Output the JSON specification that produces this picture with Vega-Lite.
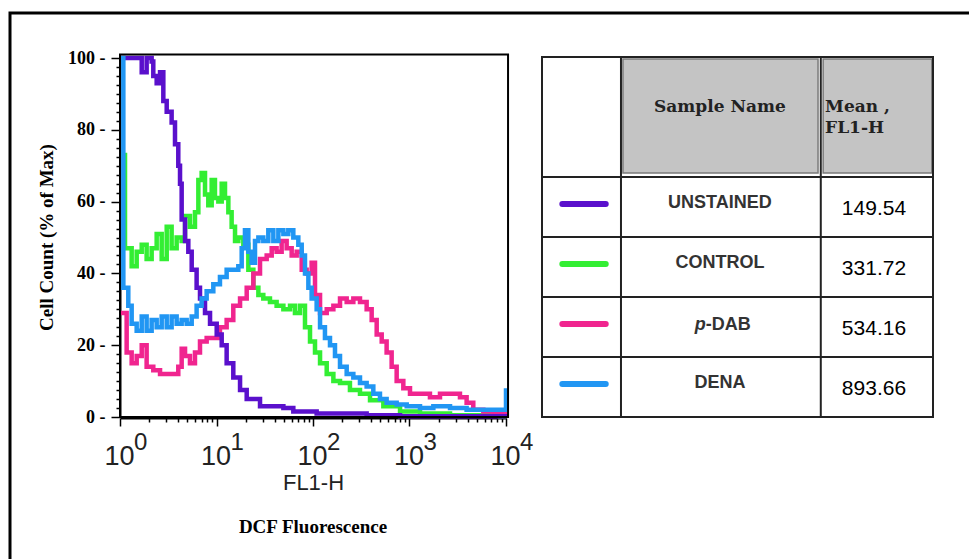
{
  "$schema": "https://vega.github.io/schema/vega-lite/v6.json",
  "width": 962,
  "height": 550,
  "autosize": {"type": "none"},
  "padding": {"left": 10, "top": 13, "right": 0, "bottom": 0},
  "background": "white",
  "config": {"view": {"stroke": "black", "strokeWidth": 3, "fill": "white"}},
  "datasets": {
    "hist": [
      {"sample":"CONTROL","fl1h":1,"count":73},{"sample":"CONTROL","fl1h":1.127,"count":47},{"sample":"CONTROL","fl1h":1.321,"count":42},{"sample":"CONTROL","fl1h":1.489,"count":46},{"sample":"CONTROL","fl1h":1.679,"count":48},{"sample":"CONTROL","fl1h":1.888,"count":44},{"sample":"CONTROL","fl1h":2.128,"count":47},{"sample":"CONTROL","fl1h":2.399,"count":51},{"sample":"CONTROL","fl1h":2.704,"count":44},{"sample":"CONTROL","fl1h":3.048,"count":53},{"sample":"CONTROL","fl1h":3.428,"count":47},{"sample":"CONTROL","fl1h":3.864,"count":50},{"sample":"CONTROL","fl1h":4.355,"count":49},{"sample":"CONTROL","fl1h":4.721,"count":56},{"sample":"CONTROL","fl1h":5.309,"count":53},{"sample":"CONTROL","fl1h":5.984,"count":57},{"sample":"CONTROL","fl1h":6.486,"count":66},{"sample":"CONTROL","fl1h":7.015,"count":68},{"sample":"CONTROL","fl1h":7.603,"count":62},{"sample":"CONTROL","fl1h":8.222,"count":59},{"sample":"CONTROL","fl1h":8.913,"count":66},{"sample":"CONTROL","fl1h":9.638,"count":61},{"sample":"CONTROL","fl1h":10.45,"count":60},{"sample":"CONTROL","fl1h":11.32,"count":65},{"sample":"CONTROL","fl1h":12.25,"count":61},{"sample":"CONTROL","fl1h":13.27,"count":57},{"sample":"CONTROL","fl1h":14.35,"count":53},{"sample":"CONTROL","fl1h":15.56,"count":49},{"sample":"CONTROL","fl1h":16.83,"count":50},{"sample":"CONTROL","fl1h":18.97,"count":48},{"sample":"CONTROL","fl1h":21.38,"count":41},{"sample":"CONTROL","fl1h":24.1,"count":36},{"sample":"CONTROL","fl1h":27.16,"count":34},{"sample":"CONTROL","fl1h":30.55,"count":33},{"sample":"CONTROL","fl1h":35.81,"count":32},{"sample":"CONTROL","fl1h":41.98,"count":31},{"sample":"CONTROL","fl1h":49.32,"count":30},{"sample":"CONTROL","fl1h":57.81,"count":31},{"sample":"CONTROL","fl1h":65.01,"count":29},{"sample":"CONTROL","fl1h":73.28,"count":31},{"sample":"CONTROL","fl1h":82.6,"count":25},{"sample":"CONTROL","fl1h":93.11,"count":21},{"sample":"CONTROL","fl1h":104.9,"count":18},{"sample":"CONTROL","fl1h":118.3,"count":15},{"sample":"CONTROL","fl1h":138.7,"count":12},{"sample":"CONTROL","fl1h":162.6,"count":10},{"sample":"CONTROL","fl1h":190.5,"count":9.5},{"sample":"CONTROL","fl1h":241.5,"count":7.5},{"sample":"CONTROL","fl1h":306.9,"count":6.5},{"sample":"CONTROL","fl1h":389.9,"count":4.7},{"sample":"CONTROL","fl1h":535.8,"count":3},{"sample":"CONTROL","fl1h":798,"count":1.5},{"sample":"CONTROL","fl1h":1285,"count":1},{"sample":"CONTROL","fl1h":2630,"count":0.5},{"sample":"CONTROL","fl1h":8670,"count":0.2},{"sample":"CONTROL","fl1h":10000,"count":0},
      {"sample":"p-DAB","fl1h":1,"count":29},{"sample":"p-DAB","fl1h":1.172,"count":18},{"sample":"p-DAB","fl1h":1.321,"count":15},{"sample":"p-DAB","fl1h":1.489,"count":17},{"sample":"p-DAB","fl1h":1.679,"count":20},{"sample":"p-DAB","fl1h":1.888,"count":14},{"sample":"p-DAB","fl1h":2.213,"count":13},{"sample":"p-DAB","fl1h":2.6,"count":12},{"sample":"p-DAB","fl1h":3.048,"count":12},{"sample":"p-DAB","fl1h":3.573,"count":12},{"sample":"p-DAB","fl1h":4.018,"count":14},{"sample":"p-DAB","fl1h":4.355,"count":19},{"sample":"p-DAB","fl1h":4.721,"count":17},{"sample":"p-DAB","fl1h":5.309,"count":15},{"sample":"p-DAB","fl1h":5.984,"count":18},{"sample":"p-DAB","fl1h":6.745,"count":21},{"sample":"p-DAB","fl1h":7.907,"count":22},{"sample":"p-DAB","fl1h":9.268,"count":22},{"sample":"p-DAB","fl1h":10.86,"count":25},{"sample":"p-DAB","fl1h":12.74,"count":27},{"sample":"p-DAB","fl1h":14.93,"count":31},{"sample":"p-DAB","fl1h":17.54,"count":33},{"sample":"p-DAB","fl1h":20.56,"count":36},{"sample":"p-DAB","fl1h":24.1,"count":40},{"sample":"p-DAB","fl1h":28.25,"count":44},{"sample":"p-DAB","fl1h":33.11,"count":45},{"sample":"p-DAB","fl1h":37.33,"count":47},{"sample":"p-DAB","fl1h":41.98,"count":46},{"sample":"p-DAB","fl1h":47.32,"count":49},{"sample":"p-DAB","fl1h":53.33,"count":47},{"sample":"p-DAB","fl1h":60.12,"count":45},{"sample":"p-DAB","fl1h":67.76,"count":46},{"sample":"p-DAB","fl1h":76.38,"count":41},{"sample":"p-DAB","fl1h":85.9,"count":40},{"sample":"p-DAB","fl1h":96.83,"count":43},{"sample":"p-DAB","fl1h":104.9,"count":34},{"sample":"p-DAB","fl1h":118.3,"count":29},{"sample":"p-DAB","fl1h":138.7,"count":30},{"sample":"p-DAB","fl1h":162.6,"count":31},{"sample":"p-DAB","fl1h":190.5,"count":33},{"sample":"p-DAB","fl1h":223.4,"count":32},{"sample":"p-DAB","fl1h":261.8,"count":33},{"sample":"p-DAB","fl1h":306.9,"count":32},{"sample":"p-DAB","fl1h":359.7,"count":30},{"sample":"p-DAB","fl1h":405.5,"count":27},{"sample":"p-DAB","fl1h":457.1,"count":23},{"sample":"p-DAB","fl1h":515.2,"count":21},{"sample":"p-DAB","fl1h":579.4,"count":18},{"sample":"p-DAB","fl1h":653.1,"count":14},{"sample":"p-DAB","fl1h":736.2,"count":10},{"sample":"p-DAB","fl1h":863,"count":8},{"sample":"p-DAB","fl1h":1012,"count":6.5},{"sample":"p-DAB","fl1h":1285,"count":6.5},{"sample":"p-DAB","fl1h":1629,"count":5.5},{"sample":"p-DAB","fl1h":2070,"count":6.5},{"sample":"p-DAB","fl1h":2630,"count":6.5},{"sample":"p-DAB","fl1h":3334,"count":5.5},{"sample":"p-DAB","fl1h":3908,"count":4},{"sample":"p-DAB","fl1h":4581,"count":2},{"sample":"p-DAB","fl1h":5821,"count":1.5},{"sample":"p-DAB","fl1h":7396,"count":1},{"sample":"p-DAB","fl1h":10000,"count":0.5},
      {"sample":"UNSTAINED","fl1h":1,"count":100},{"sample":"UNSTAINED","fl1h":1.489,"count":100},{"sample":"UNSTAINED","fl1h":1.679,"count":96},{"sample":"UNSTAINED","fl1h":1.888,"count":100},{"sample":"UNSTAINED","fl1h":2.128,"count":99},{"sample":"UNSTAINED","fl1h":2.213,"count":95},{"sample":"UNSTAINED","fl1h":2.399,"count":93},{"sample":"UNSTAINED","fl1h":2.6,"count":96},{"sample":"UNSTAINED","fl1h":2.812,"count":88},{"sample":"UNSTAINED","fl1h":3.048,"count":85},{"sample":"UNSTAINED","fl1h":3.428,"count":82},{"sample":"UNSTAINED","fl1h":3.715,"count":76},{"sample":"UNSTAINED","fl1h":4.018,"count":70},{"sample":"UNSTAINED","fl1h":4.188,"count":65},{"sample":"UNSTAINED","fl1h":4.355,"count":55},{"sample":"UNSTAINED","fl1h":4.721,"count":49},{"sample":"UNSTAINED","fl1h":5.105,"count":46},{"sample":"UNSTAINED","fl1h":5.534,"count":41},{"sample":"UNSTAINED","fl1h":6.223,"count":36},{"sample":"UNSTAINED","fl1h":6.745,"count":33},{"sample":"UNSTAINED","fl1h":7.603,"count":29},{"sample":"UNSTAINED","fl1h":8.57,"count":26},{"sample":"UNSTAINED","fl1h":10.05,"count":23},{"sample":"UNSTAINED","fl1h":11.32,"count":20},{"sample":"UNSTAINED","fl1h":12.74,"count":15},{"sample":"UNSTAINED","fl1h":14.93,"count":11},{"sample":"UNSTAINED","fl1h":17.54,"count":7.5},{"sample":"UNSTAINED","fl1h":20.56,"count":5},{"sample":"UNSTAINED","fl1h":28.25,"count":3},{"sample":"UNSTAINED","fl1h":49.32,"count":2.5},{"sample":"UNSTAINED","fl1h":62.52,"count":1.5},{"sample":"UNSTAINED","fl1h":109.1,"count":1},{"sample":"UNSTAINED","fl1h":359.7,"count":0.5},{"sample":"UNSTAINED","fl1h":798,"count":0.2},{"sample":"UNSTAINED","fl1h":10000,"count":0},
      {"sample":"DENA","fl1h":1,"count":100},{"sample":"DENA","fl1h":1.083,"count":36},{"sample":"DENA","fl1h":1.219,"count":31},{"sample":"DENA","fl1h":1.321,"count":26},{"sample":"DENA","fl1h":1.489,"count":24},{"sample":"DENA","fl1h":1.679,"count":28},{"sample":"DENA","fl1h":1.888,"count":24},{"sample":"DENA","fl1h":2.128,"count":27},{"sample":"DENA","fl1h":2.399,"count":25},{"sample":"DENA","fl1h":2.704,"count":28},{"sample":"DENA","fl1h":3.048,"count":25},{"sample":"DENA","fl1h":3.428,"count":28},{"sample":"DENA","fl1h":3.864,"count":26},{"sample":"DENA","fl1h":4.355,"count":27},{"sample":"DENA","fl1h":4.909,"count":26},{"sample":"DENA","fl1h":5.534,"count":28},{"sample":"DENA","fl1h":6.223,"count":31},{"sample":"DENA","fl1h":7.015,"count":33},{"sample":"DENA","fl1h":7.907,"count":35},{"sample":"DENA","fl1h":9.268,"count":37},{"sample":"DENA","fl1h":10.86,"count":39},{"sample":"DENA","fl1h":12.74,"count":41},{"sample":"DENA","fl1h":14.93,"count":41},{"sample":"DENA","fl1h":16.83,"count":42},{"sample":"DENA","fl1h":18.24,"count":47},{"sample":"DENA","fl1h":19.72,"count":52},{"sample":"DENA","fl1h":21.38,"count":46},{"sample":"DENA","fl1h":23.12,"count":43},{"sample":"DENA","fl1h":25.06,"count":49},{"sample":"DENA","fl1h":27.16,"count":50},{"sample":"DENA","fl1h":30.55,"count":49},{"sample":"DENA","fl1h":34.43,"count":52},{"sample":"DENA","fl1h":38.82,"count":49},{"sample":"DENA","fl1h":43.75,"count":52},{"sample":"DENA","fl1h":49.32,"count":51},{"sample":"DENA","fl1h":55.46,"count":52},{"sample":"DENA","fl1h":62.52,"count":50},{"sample":"DENA","fl1h":70.47,"count":48},{"sample":"DENA","fl1h":76.38,"count":45},{"sample":"DENA","fl1h":82.6,"count":40},{"sample":"DENA","fl1h":89.54,"count":36},{"sample":"DENA","fl1h":96.83,"count":33},{"sample":"DENA","fl1h":109.1,"count":30},{"sample":"DENA","fl1h":118.3,"count":25},{"sample":"DENA","fl1h":133,"count":22},{"sample":"DENA","fl1h":150,"count":20},{"sample":"DENA","fl1h":169,"count":17},{"sample":"DENA","fl1h":190.5,"count":14},{"sample":"DENA","fl1h":223.4,"count":12},{"sample":"DENA","fl1h":261.8,"count":11},{"sample":"DENA","fl1h":306.9,"count":9.5},{"sample":"DENA","fl1h":359.7,"count":8.5},{"sample":"DENA","fl1h":421.7,"count":6.5},{"sample":"DENA","fl1h":494.3,"count":5},{"sample":"DENA","fl1h":579.4,"count":4},{"sample":"DENA","fl1h":736.2,"count":3.5},{"sample":"DENA","fl1h":935.4,"count":3},{"sample":"DENA","fl1h":1285,"count":2.5},{"sample":"DENA","fl1h":1766,"count":3},{"sample":"DENA","fl1h":2630,"count":2.5},{"sample":"DENA","fl1h":3908,"count":2},{"sample":"DENA","fl1h":5821,"count":2},{"sample":"DENA","fl1h":9376,"count":2},{"sample":"DENA","fl1h":10000,"count":8}
    ],
    "samples": [
      {"sample":"UNSTAINED","row":1,"mean":149.54},
      {"sample":"CONTROL","row":2,"mean":331.72},
      {"sample":"p-DAB","row":3,"mean":534.16},
      {"sample":"DENA","row":4,"mean":893.66}
    ],
    "decades": [
      {"decade":1,"exponent":"0"},
      {"decade":10,"exponent":"1"},
      {"decade":100,"exponent":"2"},
      {"decade":1000,"exponent":"3"},
      {"decade":10000,"exponent":"4"}
    ]
  },
  "layer": [
    {
      "resolve": {"scale": {"x": "shared", "y": "shared"}, "axis": {"x": "independent", "y": "independent"}},
      "layer": [
        {
          "data": {"name": "hist"},
          "mark": {"type": "line", "interpolate": "step-after", "strokeWidth": 4.5},
          "encoding": {
            "x": {"field": "fl1h", "type": "quantitative",
              "scale": {"type": "log", "domain": [1, 10000], "range": [110, 496], "nice": false},
              "axis": {"title": "FL1-H", "orient": "bottom", "offset": -145, "values": [1, 10, 100, 1000, 10000],
                "labelExpr": "'10'",
                "labelFont": "Liberation Sans", "labelFontSize": 27, "labelColor": "#222", "labelPadding": 17, "labelOffset": -1,
                "labelOverlap": false, "labelFlush": false, "tickSize": 8, "tickColor": "black", "tickWidth": 1.5,
                "domainColor": "black", "domainWidth": 2, "grid": false,
                "titleFont": "Liberation Sans", "titleFontSize": 22, "titleFontWeight": "normal", "titleColor": "#222",
                "titleX": 303, "titleY": 64, "titleBaseline": "middle", "titleAlign": "center"}},
            "y": {"field": "count", "type": "quantitative",
              "scale": {"domain": [0, 100], "range": [404, 45], "nice": false, "zero": false},
              "axis": {"title": "Cell Count (% of Max)", "orient": "left", "offset": -110, "values": [0, 20, 40, 60, 80, 100],
                "labelExpr": "datum.label + ' -'",
                "labelFont": "Liberation Serif", "labelFontWeight": "bold", "labelFontSize": 18, "labelColor": "black", "labelPadding": 6,
                "labelOverlap": false, "labelFlush": false, "tickSize": 9, "tickColor": "black", "tickWidth": 1.5,
                "domainColor": "black", "domainWidth": 2, "grid": false,
                "titleFont": "Liberation Serif", "titleFontSize": 19, "titleFontWeight": "bold", "titleColor": "black",
                "titleX": -74, "titleY": 224, "titleAngle": -90, "titleBaseline": "middle", "titleAlign": "center"}},
            "color": {"field": "sample", "type": "nominal",
              "scale": {"domain": ["UNSTAINED", "CONTROL", "p-DAB", "DENA"], "range": ["#5A10CC", "#33EE33", "#F0258F", "#2196F3"]},
              "legend": null}
          }
        },
        {
          "data": {"values": [{}]},
          "mark": {"type": "rect", "filled": false, "stroke": "black", "strokeWidth": 2},
          "encoding": {
            "x": {"datum": 1, "type": "quantitative",
              "axis": {"orient": "bottom", "offset": -145, "values": [2,3,4,5,6,7,8,9,20,30,40,50,60,70,80,90,200,300,400,500,600,700,800,900,2000,3000,4000,5000,6000,7000,8000,9000],
                "labels": false, "domain": false, "title": null, "tickSize": 4, "tickColor": "black", "tickWidth": 1.5, "grid": false}},
            "x2": {"datum": 10500},
            "y": {"datum": 0, "type": "quantitative",
              "axis": {"orient": "left", "offset": -110, "values": [2.5,5,7.5,10,12.5,15,17.5,22.5,25,27.5,30,32.5,35,37.5,42.5,45,47.5,50,52.5,55,57.5,62.5,65,67.5,70,72.5,75,77.5,82.5,85,87.5,90,92.5,95,97.5],
                "labels": false, "domain": false, "title": null, "tickSize": 4, "tickColor": "black", "tickWidth": 1.5, "grid": false}},
            "y2": {"datum": 101}
          }
        },
        {
          "data": {"name": "decades"},
          "mark": {"type": "text", "font": "Liberation Sans", "fontSize": 24, "color": "#222", "align": "left", "baseline": "top", "dx": 14},
          "encoding": {
            "x": {"field": "decade", "type": "quantitative", "axis": null},
            "y": {"datum": -3.9, "type": "quantitative", "axis": null},
            "text": {"field": "exponent"}
          }
        },
        {
          "data": {"values": [{}]},
          "mark": {"type": "text", "text": "DCF Fluorescence", "font": "Liberation Serif", "fontSize": 19, "fontWeight": "bold", "color": "black", "baseline": "middle", "align": "center"},
          "encoding": {
            "x": {"datum": 100, "type": "quantitative", "axis": null},
            "y": {"datum": -30.6, "type": "quantitative", "axis": null}
          }
        }
      ]
    },
    {
      "layer": [
        {
          "data": {"values": [{}]},
          "mark": {"type": "rect", "fill": "#C4C4C4", "stroke": "#7A7A7A", "strokeWidth": 1.5},
          "encoding": {
            "x": {"datum": 20.7, "type": "quantitative", "scale": {"domain": [0, 100], "range": [532, 923], "nice": false, "zero": false}, "axis": null},
            "x2": {"datum": 70.6},
            "y": {"datum": -1.467, "type": "quantitative", "scale": {"domain": [-1.5, 4.5], "range": [44, 404], "nice": false, "zero": false}, "axis": null},
            "y2": {"datum": 0.433}
          }
        },
        {
          "data": {"values": [{}]},
          "mark": {"type": "rect", "fill": "#C4C4C4", "stroke": "#7A7A7A", "strokeWidth": 1.5},
          "encoding": {
            "x": {"datum": 71.9, "type": "quantitative", "axis": null},
            "x2": {"datum": 99.7},
            "y": {"datum": -1.467, "type": "quantitative", "axis": null},
            "y2": {"datum": 0.433}
          }
        },
        {
          "data": {"values": [{}]},
          "mark": {"type": "rect", "filled": false, "stroke": "#222", "strokeWidth": 2},
          "encoding": {
            "x": {"datum": 0, "type": "quantitative", "axis": null},
            "x2": {"datum": 100},
            "y": {"datum": -1.5, "type": "quantitative", "axis": null},
            "y2": {"datum": 4.5}
          }
        },
        {
          "data": {"values": [{}]},
          "mark": {"type": "rule", "stroke": "#222", "strokeWidth": 2},
          "encoding": {"x": {"datum": 20.2, "type": "quantitative", "axis": null}, "y": {"datum": -1.5, "type": "quantitative", "axis": null}, "y2": {"datum": 4.5}}
        },
        {
          "data": {"values": [{}]},
          "mark": {"type": "rule", "stroke": "#222", "strokeWidth": 2},
          "encoding": {"x": {"datum": 71.3, "type": "quantitative", "axis": null}, "y": {"datum": -1.5, "type": "quantitative", "axis": null}, "y2": {"datum": 4.5}}
        },
        {
          "data": {"values": [{}]},
          "mark": {"type": "rule", "stroke": "#222", "strokeWidth": 2},
          "encoding": {"y": {"datum": 0.5, "type": "quantitative", "axis": null}, "x": {"datum": 0, "type": "quantitative", "axis": null}, "x2": {"datum": 100}}
        },
        {
          "data": {"values": [{}]},
          "mark": {"type": "rule", "stroke": "#222", "strokeWidth": 2},
          "encoding": {"y": {"datum": 1.5, "type": "quantitative", "axis": null}, "x": {"datum": 0, "type": "quantitative", "axis": null}, "x2": {"datum": 100}}
        },
        {
          "data": {"values": [{}]},
          "mark": {"type": "rule", "stroke": "#222", "strokeWidth": 2},
          "encoding": {"y": {"datum": 2.5, "type": "quantitative", "axis": null}, "x": {"datum": 0, "type": "quantitative", "axis": null}, "x2": {"datum": 100}}
        },
        {
          "data": {"values": [{}]},
          "mark": {"type": "rule", "stroke": "#222", "strokeWidth": 2},
          "encoding": {"y": {"datum": 3.5, "type": "quantitative", "axis": null}, "x": {"datum": 0, "type": "quantitative", "axis": null}, "x2": {"datum": 100}}
        },
        {
          "data": {"name": "samples"},
          "mark": {"type": "rule", "strokeWidth": 6, "strokeCap": "round", "yOffset": -3},
          "encoding": {
            "x": {"datum": 5.2, "type": "quantitative", "axis": null},
            "x2": {"datum": 16.3},
            "y": {"field": "row", "type": "quantitative", "axis": null},
            "color": {"field": "sample", "type": "nominal", "legend": null}
          }
        },
        {
          "data": {"name": "samples"},
          "transform": [{"filter": "datum.sample != 'p-DAB'"}],
          "mark": {"type": "text", "font": "Liberation Sans", "fontWeight": "bold", "fontSize": 18, "color": "#333", "dy": -4},
          "encoding": {
            "x": {"datum": 45.5, "type": "quantitative", "axis": null},
            "y": {"field": "row", "type": "quantitative", "axis": null},
            "text": {"field": "sample"}
          }
        },
        {
          "data": {"name": "samples"},
          "transform": [{"filter": "datum.sample == 'p-DAB'"}],
          "mark": {"type": "text", "text": "p", "font": "Liberation Sans", "fontWeight": "bold", "fontStyle": "italic", "fontSize": 18, "color": "#333", "align": "right", "dy": -2},
          "encoding": {
            "x": {"datum": 41.9, "type": "quantitative", "axis": null},
            "y": {"field": "row", "type": "quantitative", "axis": null}
          }
        },
        {
          "data": {"name": "samples"},
          "transform": [{"filter": "datum.sample == 'p-DAB'"}],
          "mark": {"type": "text", "text": "-DAB", "font": "Liberation Sans", "fontWeight": "bold", "fontSize": 18, "color": "#333", "align": "left", "dy": -2},
          "encoding": {
            "x": {"datum": 41.9, "type": "quantitative", "axis": null},
            "y": {"field": "row", "type": "quantitative", "axis": null}
          }
        },
        {
          "data": {"name": "samples"},
          "mark": {"type": "text", "font": "Liberation Sans", "fontSize": 21, "color": "black", "dy": 2},
          "encoding": {
            "x": {"datum": 84.9, "type": "quantitative", "axis": null},
            "y": {"field": "row", "type": "quantitative", "axis": null},
            "text": {"field": "mean", "type": "quantitative", "format": ".2f"}
          }
        },
        {
          "data": {"values": [{}]},
          "mark": {"type": "text", "text": "Sample Name", "font": "DejaVu Serif", "fontWeight": "bold", "fontSize": 17, "color": "#222"},
          "encoding": {
            "x": {"datum": 45.5, "type": "quantitative", "axis": null},
            "y": {"datum": -0.667, "type": "quantitative", "axis": null}
          }
        },
        {
          "data": {"values": [{}]},
          "mark": {"type": "text", "text": "Mean ,", "font": "DejaVu Serif", "fontWeight": "bold", "fontSize": 17, "color": "#222", "align": "left"},
          "encoding": {
            "x": {"datum": 72.4, "type": "quantitative", "axis": null},
            "y": {"datum": -0.667, "type": "quantitative", "axis": null}
          }
        },
        {
          "data": {"values": [{}]},
          "mark": {"type": "text", "text": "FL1-H", "font": "DejaVu Serif", "fontWeight": "bold", "fontSize": 17, "color": "#222", "align": "left"},
          "encoding": {
            "x": {"datum": 72.4, "type": "quantitative", "axis": null},
            "y": {"datum": -0.317, "type": "quantitative", "axis": null}
          }
        }
      ]
    }
  ],
  "resolve": {"scale": {"x": "independent", "y": "independent", "color": "shared"}, "axis": {"x": "independent", "y": "independent"}}
}
